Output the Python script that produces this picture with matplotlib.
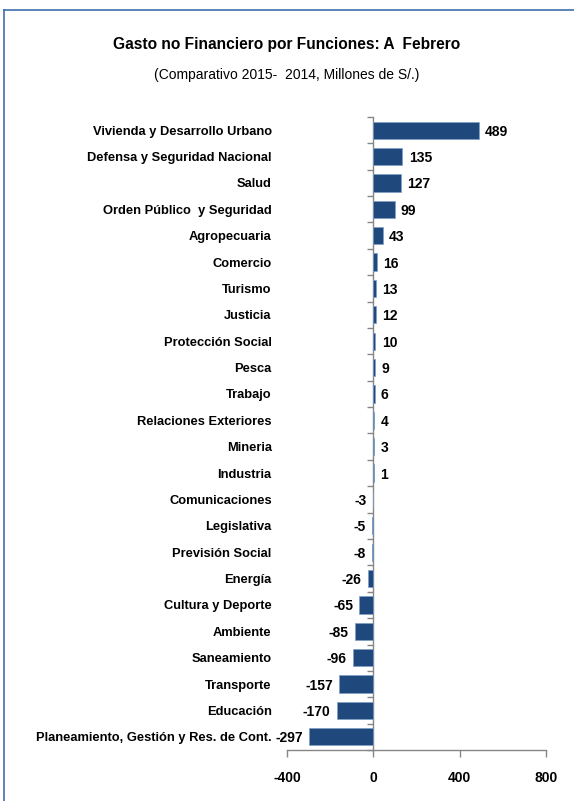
import matplotlib
matplotlib.use("Agg")
import matplotlib.pyplot as plt
import numpy as np
from matplotlib.lines import Line2D

categories = ["Vivienda y Desarrollo Urbano", "Defensa y Seguridad Nacional", "Salud",
              "Orden Público  y Seguridad", "Agropecuaria", "Comercio", "Turismo", "Justicia",
              "Protección Social", "Pesca", "Trabajo", "Relaciones Exteriores", "Mineria",
              "Industria", "Comunicaciones", "Legislativa", "Previsión Social", "Energía",
              "Cultura y Deporte", "Ambiente", "Saneamiento", "Transporte", "Educación",
              "Planeamiento, Gestión y Res. de Cont."]
values = [489, 135, 127, 99, 43, 16, 13, 12, 10, 9, 6, 4, 3, 1,
          -3, -5, -8, -26, -65, -85, -96, -157, -170, -297]
xticks = [-400, 0, 400, 800]

FONT = ["Liberation Sans", "DejaVu Sans"]
plt.rcParams["font.family"] = FONT
plt.rcParams["font.weight"] = "bold"
LFS = 9.3
VFS = 10

fig = plt.figure(figsize=(5.74, 8.01), dpi=100)
fig.patch.set_facecolor("white")

# frame (top and left edges visible)
fig.add_artist(Line2D([4/574, 4/574], [0, 1 - 10/801], transform=fig.transFigure,
                      color="#3F6FAF", lw=1.2))
fig.add_artist(Line2D([4/574, 1], [1 - 10/801, 1 - 10/801], transform=fig.transFigure,
                      color="#3F6FAF", lw=1.2))

ax = fig.add_axes([287/574, 1 - 750/801, (546 - 287)/574, (750 - 117)/801])
n = len(categories)
y = np.arange(n)
ax.barh(y, values, height=0.65, color="#1F497D", edgecolor="#7F9FC8", linewidth=0.5, zorder=3)
ax.set_ylim(n - 0.5, -0.5)
ax.set_xlim(-400, 800)
ax.set_xticks(xticks)
ax.set_xticklabels([str(v) for v in xticks], fontsize=VFS, fontweight="bold")
ax.tick_params(axis="x", colors="#868686", length=5, width=1, labelcolor="black", pad=10)
ax.set_yticks(y)
ax.set_yticklabels(categories, fontsize=LFS, fontweight="bold")
ax.tick_params(axis="y", length=0, pad=11)
for s in ["top", "right", "left"]:
    ax.spines[s].set_visible(False)
ax.spines["bottom"].set_color("#868686")
ax.spines["bottom"].set_linewidth(1)

sec = ax.secondary_yaxis(400 / 1200)
sec.set_yticks(np.arange(n + 1) - 0.5)
sec.set_yticklabels([])
sec.tick_params(axis="y", length=4, width=1, colors="#868686", direction="out")
sec.spines["left"].set_color("#868686")
sec.spines["left"].set_linewidth(1)

for yi, v in zip(y, values):
    if v >= 0:
        ax.annotate(str(v), (v, yi), xytext=(4.5, 0), textcoords="offset points",
                    ha="left", va="center_baseline", fontsize=VFS, fontweight="bold")
    else:
        ax.annotate(str(v), (v, yi), xytext=(-4.5, 0), textcoords="offset points",
                    ha="right", va="center_baseline", fontsize=VFS, fontweight="bold")

fig.text(0.5, 1 - 45/801, "Gasto no Financiero por Funciones: A  Febrero", ha="center",
         va="center", fontsize=11.2, fontweight="bold")
fig.text(0.5, 1 - 75/801, "(Comparativo 2015-  2014, Millones de S/.)", ha="center",
         va="center", fontsize=10, fontweight="normal")

fig.savefig("out.png", dpi=100, facecolor="white")
